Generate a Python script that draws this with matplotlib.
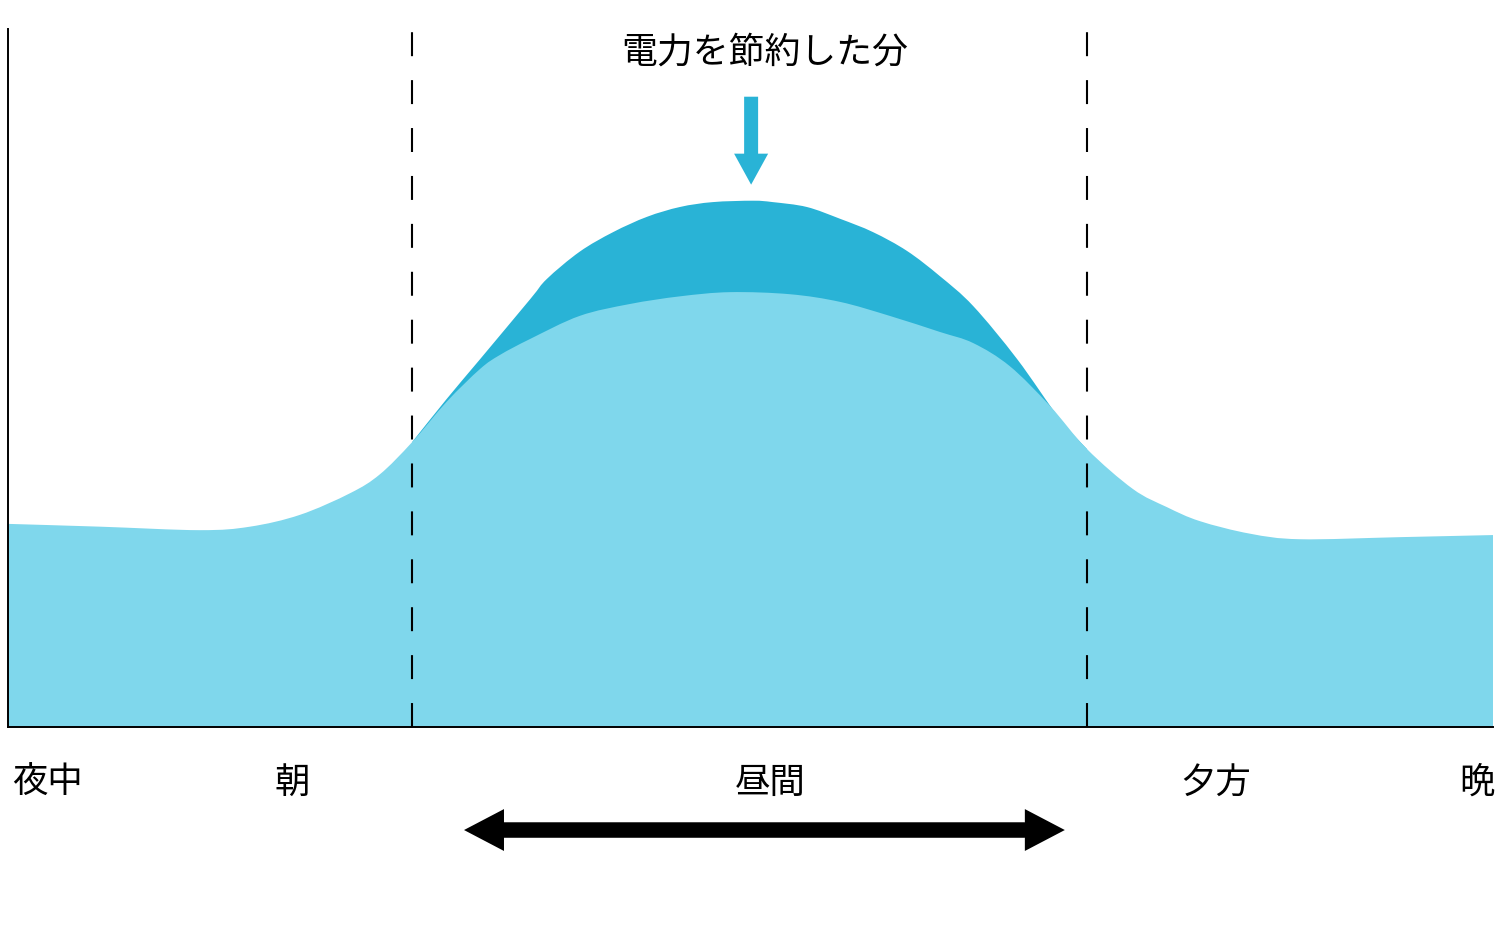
import matplotlib
matplotlib.use("Agg")
import matplotlib.pyplot as plt
from matplotlib.patches import FancyArrow, PathPatch
from matplotlib.path import Path

plt.rcParams["font.family"] = ["Noto Sans CJK JP", "DejaVu Sans"]

# time of day (h) and demand (% of axis height)
hours = [0.00, 1.49, 3.10, 3.91, 4.72, 5.53, 6.01, 6.53, 7.09, 7.63, 7.95, 8.44,
         9.24, 10.05, 10.86, 11.67, 12.64, 13.45, 14.25, 15.06, 15.60,
         16.19, 16.84, 17.44, 18.18, 18.73, 19.26, 20.07, 20.88, 22.50, 24.00]
demand_saved = [29.1, 28.7, 28.2, 28.7, 30.4, 33.5, 36.2, 40.8, 46.6, 51.3, 53.3, 55.6,
                58.9, 60.6, 61.7, 62.3, 62.0, 60.9, 58.9, 56.6, 55.0,
                51.7, 46.0, 39.8, 34.1, 31.5, 29.5, 27.7, 26.9, 27.2, 27.5]

hours_peak = [6.53, 7.09, 7.63, 8.44, 8.71, 9.24, 9.78, 10.33, 10.86, 11.39, 12.04,
              12.36, 12.91, 13.45, 13.98, 14.53, 15.06, 15.60, 16.31, 17.00, 17.44]
demand_peak = [40.8, 47.0, 52.7, 61.3, 64.2, 68.1, 70.9, 73.1, 74.5, 75.2, 75.4,
               75.2, 74.5, 72.8, 70.9, 68.2, 64.6, 60.3, 52.7, 44.1, 39.8]

daytime_bounds = [6.53, 17.44]
period_labels = ["夜中", "朝", "昼間", "夕方", "晩"]
period_pos = [0.64, 4.6, 12.32, 19.52, 23.74]

dark = "#29b3d6"
light = "#7fd7ec"


def smooth_area(xs, ys):
    # Catmull-Rom through the points as cubic beziers, closed down to y=0
    pts = list(zip(xs, ys))
    verts = [pts[0]]
    codes = [Path.MOVETO]
    n = len(pts)
    for i in range(n - 1):
        p0 = pts[max(i - 1, 0)]
        p1 = pts[i]
        p2 = pts[i + 1]
        p3 = pts[min(i + 2, n - 1)]
        c1 = (p1[0] + (p2[0] - p0[0]) / 6, p1[1] + (p2[1] - p0[1]) / 6)
        c2 = (p2[0] - (p3[0] - p1[0]) / 6, p2[1] - (p3[1] - p1[1]) / 6)
        verts += [c1, c2, p2]
        codes += [Path.CURVE4] * 3
    verts += [(xs[-1], 0), (xs[0], 0), (xs[0], 0)]
    codes += [Path.LINETO, Path.LINETO, Path.CLOSEPOLY]
    return Path(verts, codes)


fig = plt.figure(figsize=(14.96, 9.28), dpi=100)
ax = fig.add_axes([8 / 1496, 200 / 928, 1485 / 1496, 698 / 928])

ax.add_patch(PathPatch(smooth_area(hours_peak, demand_peak), fc=dark, lw=0, zorder=1))
ax.add_patch(PathPatch(smooth_area(hours, demand_saved), fc=light, lw=0, zorder=2))

for xb in daytime_bounds:
    ax.plot([xb, xb], [0, 99.6], color="black", lw=1.5, dashes=(11.5, 11.5),
            zorder=3)

ax.set_xlim(0, 24)
ax.set_ylim(0, 100)
ax.set_xticks([])
ax.set_yticks([])
for s in ["top", "right"]:
    ax.spines[s].set_visible(False)
for s in ["left", "bottom"]:
    ax.spines[s].set_linewidth(1.4)
    ax.spines[s].set_zorder(4)

for lab, xp in zip(period_labels, period_pos):
    ax.text(xp, -7.85, lab, ha="center", va="center", fontsize=25.5,
            clip_on=False)

ax.text(12.23, 96.7, "電力を節約した分", ha="center", va="center", fontsize=25.8,
        clip_on=False)

# down arrow onto the saved part
ax.add_patch(FancyArrow(12.01, 90.3, 0, -12.6, width=0.226, head_width=0.55,
                        head_length=4.44, length_includes_head=True,
                        color=dark, lw=0, clip_on=False, zorder=5))

# double-headed arrow for daytime
left_tip, right_tip, head_len = 7.37, 17.08, 0.646
ax.add_patch(FancyArrow(left_tip + head_len, -14.76, right_tip - left_tip - head_len, 0,
                        width=2.15, head_width=6.0, head_length=head_len,
                        length_includes_head=True, color="black", lw=0,
                        clip_on=False))
ax.add_patch(FancyArrow(right_tip - head_len, -14.76, left_tip - right_tip + head_len, 0,
                        width=2.15, head_width=6.0, head_length=head_len,
                        length_includes_head=True, color="black", lw=0,
                        clip_on=False))

fig.savefig("out.png", dpi=100)
